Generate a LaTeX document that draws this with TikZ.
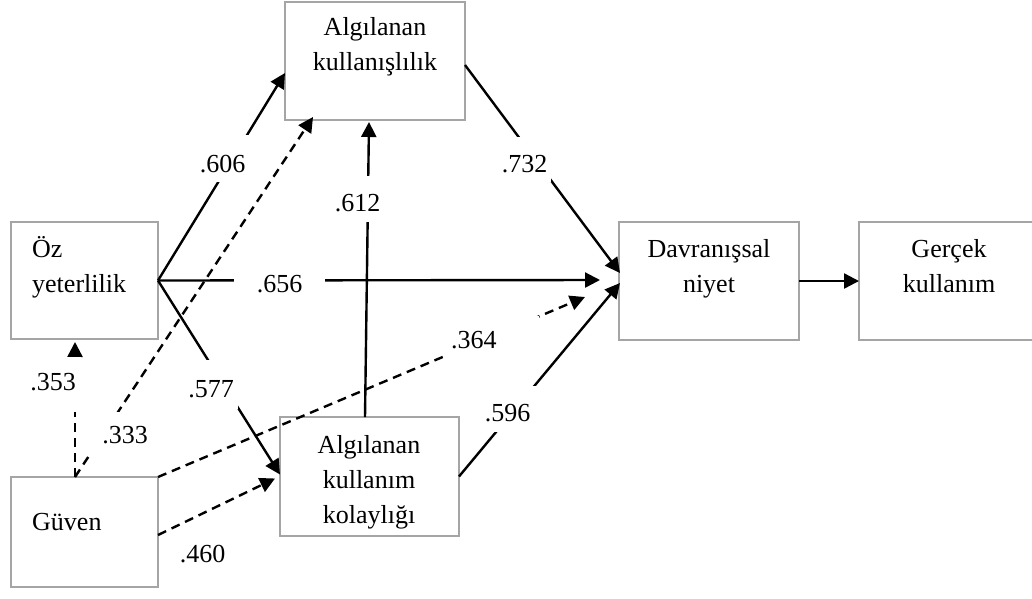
\documentclass[tikz,border=0pt]{standalone}
\usepackage{fontspec}
\setmainfont{Liberation Serif}
\usetikzlibrary{arrows.meta,calc}

\definecolor{boxgray}{RGB}{165,165,165}

\begin{document}
\begin{tikzpicture}[x=1pt,y=-1pt,
  box/.style={draw=boxgray, line width=1.6pt, rectangle, inner sep=0pt, outer sep=0pt},
  txtc/.style={inner sep=0pt, font=\fontsize{26}{35}\selectfont, text width=176pt, align=center, anchor=base},
  txtl/.style={inner sep=0pt, font=\fontsize{26}{35}\selectfont, text width=120pt, align=left, anchor=base west},
  conn/.style={line width=2.4pt, -{Triangle[length=15pt,width=15pt]}},
  dconn/.style={conn, dash pattern=on 9pt off 6pt},
  num/.style={font=\fontsize{26}{35}\selectfont, anchor=base, inner sep=0pt},
  gap/.style={num, fill=white}
]
\useasboundingbox (0,0) rectangle (1032,598);

% boxes
\node[box, minimum width=147pt, minimum height=117pt] (oz)  at (84.5,280.5) {};
\node[box, minimum width=147pt, minimum height=110pt] (guv) at (84.5,532) {};
\node[box, minimum width=180pt, minimum height=118pt] (ak)  at (375,61) {};
\node[box, minimum width=179pt, minimum height=119pt] (akk) at (369.5,476.5) {};
\node[box, minimum width=180pt, minimum height=118pt] (dn)  at (709,281) {};
\node[box, minimum width=190pt, minimum height=118pt] (gk)  at (954,281) {};

% box texts
\node[txtl] (ozt)  at (32,257)  {Öz\\yeterlilik};
\node[txtl] (guvt) at (32,530)  {Güven};
\node[txtc] (akt)  at (375,35)  {Algılanan\\kullanışlılık};
\node[txtc] (akkt) at (369,453) {Algılanan\\kullanım\\kolaylığı};
\node[txtc] (dnt)  at (709,257) {Davranışsal\\niyet};
\node[txtc] (gkt)  at (949,257) {Gerçek\\kullanım};

% solid paths
\draw[conn] (oz.east) -- ($(ak.west)+(0,12)$);
\draw[conn] (oz.east) -- ($(dn.west)+(-19,-1)$);
\draw[conn] (oz.east) -- ($(akk.west)+(0,-2)$);
\draw[conn] ($(akk.north)+(-4.5,0)$) -- ($(ak.south)+(-6,2)$);
\draw[conn] ($(ak.east)+(0,4)$) -- ($(dn.west)+(1,-8)$);
\draw[conn] (akk.east) -- ($(dn.west)+(1,2)$);
\draw[conn] (dn.east) -- (gk.west);

% dashed paths from Güven
\draw[dconn] ($(guv.north west)+(64,0)$) -- ($(oz.south west)+(64,3)$);
\draw[dconn] ($(guv.north west)+(64,0)$) -- ($(ak.south west)+(28,-3)$);
\draw[dconn] (guv.north east) -- ($(dn.west)+(-34,16)$);
\draw[dconn] ($(guv.east)+(0,3)$) -- ($(akk.west)+(-5,2)$);

% path coefficients
\node[gap, inner xsep=4pt, inner ysep=10pt, text height=27pt] (c606) at (222.5,172) {.606};
\node[gap, inner xsep=22.5pt, inner ysep=2pt] (c656) at (279.5,292) {.656};
\node[gap, inner xsep=4pt, inner ysep=12pt, text height=25pt] (c577) at (211,397) {.577};
\node[gap, inner xsep=5pt, inner ysep=16pt, text depth=6pt] (c353) at (53,390) {.353};
\node[gap, inner xsep=12pt, inner ysep=14pt] (c333) at (125,443) {.333};
\node[num] (c460) at (202.5,562) {.460};
\node[gap, inner xsep=4pt, inner ysep=11pt, text height=24pt] (c612) at (357.5,211) {.612};
\node[gap, inner xsep=4pt, inner ysep=10pt, text height=25pt] (c732) at (524.5,172) {.732};
\node[gap, anchor=base west, inner xsep=8pt, inner ysep=10pt, text height=22pt, text width=80pt, align=left] (c364) at (443,348) {.364};
\node[gap, inner xsep=7pt, inner ysep=11pt, text height=24pt] (c596) at (507.5,421) {.596};
\end{tikzpicture}
\end{document}
